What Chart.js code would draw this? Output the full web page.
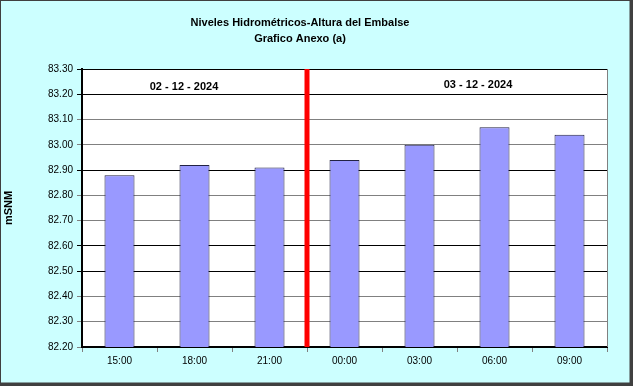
<!DOCTYPE html>
<html>
<head>
<meta charset="utf-8">
<script src="https://cdn.jsdelivr.net/npm/chart.js@4/dist/chart.umd.min.js"></script>
<style>
html,body{margin:0;padding:0;background:#fff;}
#wrap{width:633px;height:386px;position:relative;}
</style>
</head>
<body>
<div id="wrap"><canvas id="c" width="633" height="386"></canvas></div>
<script>
const categories = ["15:00","18:00","21:00","00:00","03:00","06:00","09:00"];
const levels = [82.88, 82.92, 82.91, 82.94, 83.00, 83.07, 83.04];
const titleLines = ["Niveles Hidrométricos-Altura del Embalse", "Grafico Anexo (a)"];
const yAxisTitle = "mSNM";
const dateLabels = ["02 - 12 - 2024", "03 - 12 - 2024"];
const yMin = 82.20, yMax = 83.30, yStep = 0.10;
const darkGridValues = [83.30, 83.20, 82.90, 82.60, 82.50];

const FONT = "'Liberation Sans', Arial, sans-serif";

const decorPlugin = {
  id: 'decor',
  beforeDraw(chart) {
    const ctx = chart.ctx, W = chart.width, H = chart.height, ca = chart.chartArea;
    ctx.save();
    ctx.fillStyle = '#CCFFFF';
    ctx.fillRect(0, 0, W, H);
    // outer frame with shadow
    ctx.fillStyle = '#404040';
    ctx.fillRect(W - 3, 0, 3, H);
    ctx.fillRect(0, H - 3, W, 3);
    ctx.strokeStyle = '#404040';
    ctx.lineWidth = 1;
    ctx.strokeRect(0.5, 0.5, W - 3.5, H - 3.5);
    // plot area
    ctx.fillStyle = '#FFFFFF';
    ctx.fillRect(ca.left, ca.top, ca.right - ca.left, ca.bottom - ca.top);
    // title
    ctx.fillStyle = '#000';
    ctx.font = 'bold 11px ' + FONT;
    ctx.textAlign = 'center';
    ctx.textBaseline = 'middle';
    ctx.fillText(titleLines[0], 300, 23);
    ctx.fillText(titleLines[1], 300, 39);
    ctx.restore();
  },
  afterDatasetsDraw(chart) {
    const ctx = chart.ctx, ca = chart.chartArea;
    const x = chart.scales.x, y = chart.scales.y;
    ctx.save();
    // right border of plot area
    ctx.strokeStyle = '#808080';
    ctx.lineWidth = 1;
    ctx.beginPath();
    ctx.moveTo(ca.right + 0.5, ca.top);
    ctx.lineTo(ca.right + 0.5, ca.bottom);
    ctx.stroke();
    // red day separator between 21:00 and 00:00
    const sx = (x.getPixelForValue(2) + x.getPixelForValue(3)) / 2;
    ctx.strokeStyle = '#FF0000';
    ctx.lineWidth = 5;
    ctx.beginPath();
    ctx.moveTo(sx, ca.top);
    ctx.lineTo(sx, ca.bottom);
    ctx.stroke();
    // date labels
    ctx.fillStyle = '#000';
    ctx.font = 'bold 11px ' + FONT;
    ctx.textAlign = 'center';
    ctx.textBaseline = 'middle';
    ctx.fillText(dateLabels[0], x.getPixelForValue(0.86), y.getPixelForValue(83.228));
    ctx.fillText(dateLabels[1], x.getPixelForValue(4.78), y.getPixelForValue(83.236));
    ctx.restore();
  }
};

const gridColor = (ctx) => {
  const v = ctx.tick ? ctx.tick.value : null;
  if (v == null) return '#808080';
  return darkGridValues.some(d => Math.abs(d - v) < 1e-6) ? '#000000' : '#808080';
};

new Chart(document.getElementById('c'), {
  type: 'bar',
  data: {
    labels: categories,
    datasets: [{
      data: levels,
      backgroundColor: '#9999FF',
      borderColor: '#222244',
      borderWidth: 1,
      barPercentage: 0.4,
      categoryPercentage: 1.0
    }]
  },
  options: {
    responsive: false,
    animation: false,
    devicePixelRatio: 1,
    layout: { padding: { left: 2, top: 69, right: 26, bottom: 0 } },
    plugins: {
      legend: { display: false },
      title: { display: false },
      tooltip: { enabled: false }
    },
    scales: {
      x: {
        grid: { display: true, drawOnChartArea: false, offset: true, tickLength: 5, color: '#808080', tickColor: '#808080' },
        border: { color: '#000', width: 2 },
        ticks: { color: '#000', font: { family: FONT, size: 10 }, padding: 3, maxRotation: 0 },
        afterFit(scale) { scale.height = 39; }
      },
      y: {
        min: yMin,
        max: yMax,
        grid: { color: gridColor, tickColor: gridColor, tickLength: 5, lineWidth: 1 },
        border: { color: '#000', width: 2 },
        ticks: {
          stepSize: yStep,
          color: '#000',
          font: { family: FONT, size: 10 },
          padding: 4,
          callback: (v) => Number(v).toFixed(2)
        },
        title: { display: true, text: yAxisTitle, color: '#000', font: { family: FONT, size: 11, weight: 'bold' }, padding: { top: 0, bottom: 0 } },
        afterFit(scale) { scale.width = 80; }
      }
    }
  },
  plugins: [decorPlugin]
});
</script>
</body>
</html>
